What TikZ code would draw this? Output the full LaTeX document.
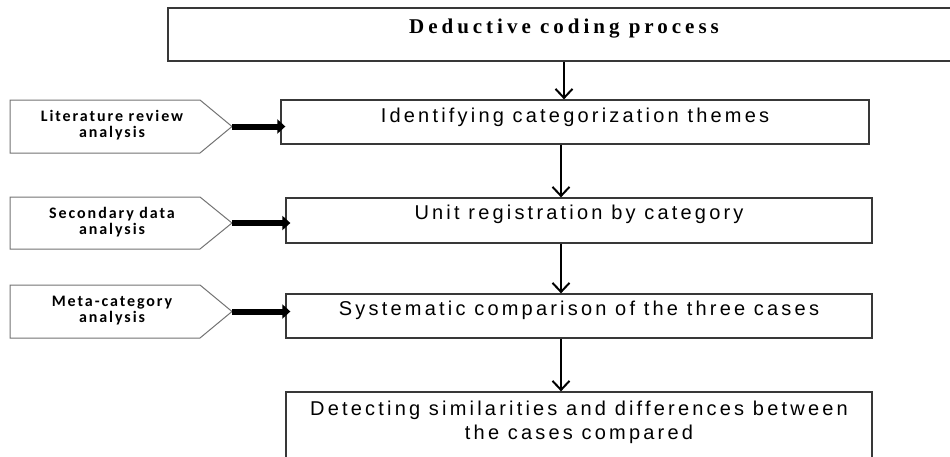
\documentclass[tikz,border=0pt]{standalone}
\usepackage{fontspec}
\setmainfont{Liberation Serif}
\newfontfamily\headfont[LetterSpace=19]{Liberation Serif}
\newfontfamily\boxfont[LetterSpace=16]{Liberation Sans}
\newfontfamily\srcfont[LetterSpace=12]{Carlito}
\usetikzlibrary{arrows.meta}

\tikzset{
  procbox/.style={draw=black!78, line width=1.3pt, inner sep=0pt, fill=white},
  headtext/.style={font=\headfont\bfseries\fontsize{21pt}{24pt}\selectfont, inner sep=0pt},
  proctext/.style={font=\boxfont\fontsize{20pt}{24pt}\selectfont, align=center, inner sep=0pt},
  srcshape/.style={draw=black!55, line width=1pt, fill=white, line join=miter},
  srctext/.style={font=\srcfont\bfseries\fontsize{16pt}{16pt}\selectfont, align=center, inner sep=0pt},
  flow/.style={draw=black, line width=2pt, -{Straight Barb[length=9pt,width=17pt]}},
  feed/.style={draw=black, line width=6pt, -{Triangle[length=8pt,width=14pt]}, shorten >=-5pt},
}

\begin{document}
\begin{tikzpicture}[x=1pt, y=-1pt]
  \useasboundingbox (0,0) rectangle (950,456);
  \clip (0,0) rectangle (950,456);

  % main column of process steps
  \node[procbox, minimum width=802pt, minimum height=53pt] (b1) at (569,34.5) {};
  \node[procbox, minimum width=588pt, minimum height=44pt] (b2) at (575,122) {};
  \node[procbox, minimum width=586pt, minimum height=45pt] (b3) at (579,220.5) {};
  \node[procbox, minimum width=586pt, minimum height=44pt] (b4) at (579,316) {};
  \node[procbox, minimum width=586pt, minimum height=78pt] (b5) at (579,431) {};

  \node[headtext, anchor=base] (h1) at (564,33) {Deductive coding process};
  \node[proctext, anchor=base] (t2) at ([yshift=-23pt]b2.north) {Identifying categorization themes};
  \node[proctext, anchor=base] (t3) at ([yshift=-22pt]b3.north) {Unit registration by category};
  \node[proctext, anchor=base] (t4) at ([yshift=-22pt]b4.north) {Systematic comparison of the three cases};
  % base anchor of a two-line node sits on its last line
  \node[proctext, anchor=base] (t5) at ([yshift=-48pt]b5.north) {Detecting similarities and differences between\\the cases compared};

  % downward flow between the steps
  \coordinate (c1) at (564,0);
  \coordinate (c2) at (561,0);
  \draw[flow] (c1 |- b1.south) -- (c1 |- b2.north);
  \draw[flow] (c2 |- b2.south) -- (c2 |- b3.north);
  \draw[flow] (c2 |- b3.south) -- (c2 |- b4.north);
  \draw[flow] (c2 |- b4.south) -- (c2 |- b5.north);

  % analysis inputs feeding the first three steps
  \foreach \i/\t/\b/\tgt/\txt in {
      1/100/153/b2/{Literature review\\analysis},
      2/197/249/b3/{Secondary data\\analysis},
      3/285/338/b4/{Meta-category\\analysis}} {
    \draw[srcshape] (10,\t) -- (200,\t) -- (232,{(\t+\b)/2}) coordinate (tip\i)
      -- (200,\b) -- (10,\b) -- cycle;
    \node[srctext] (s\i) at (112,{(\t+\b)/2-1}) {\txt};
    \draw[feed] (tip\i) -- (tip\i -| \tgt.west);
  }
\end{tikzpicture}
\end{document}
